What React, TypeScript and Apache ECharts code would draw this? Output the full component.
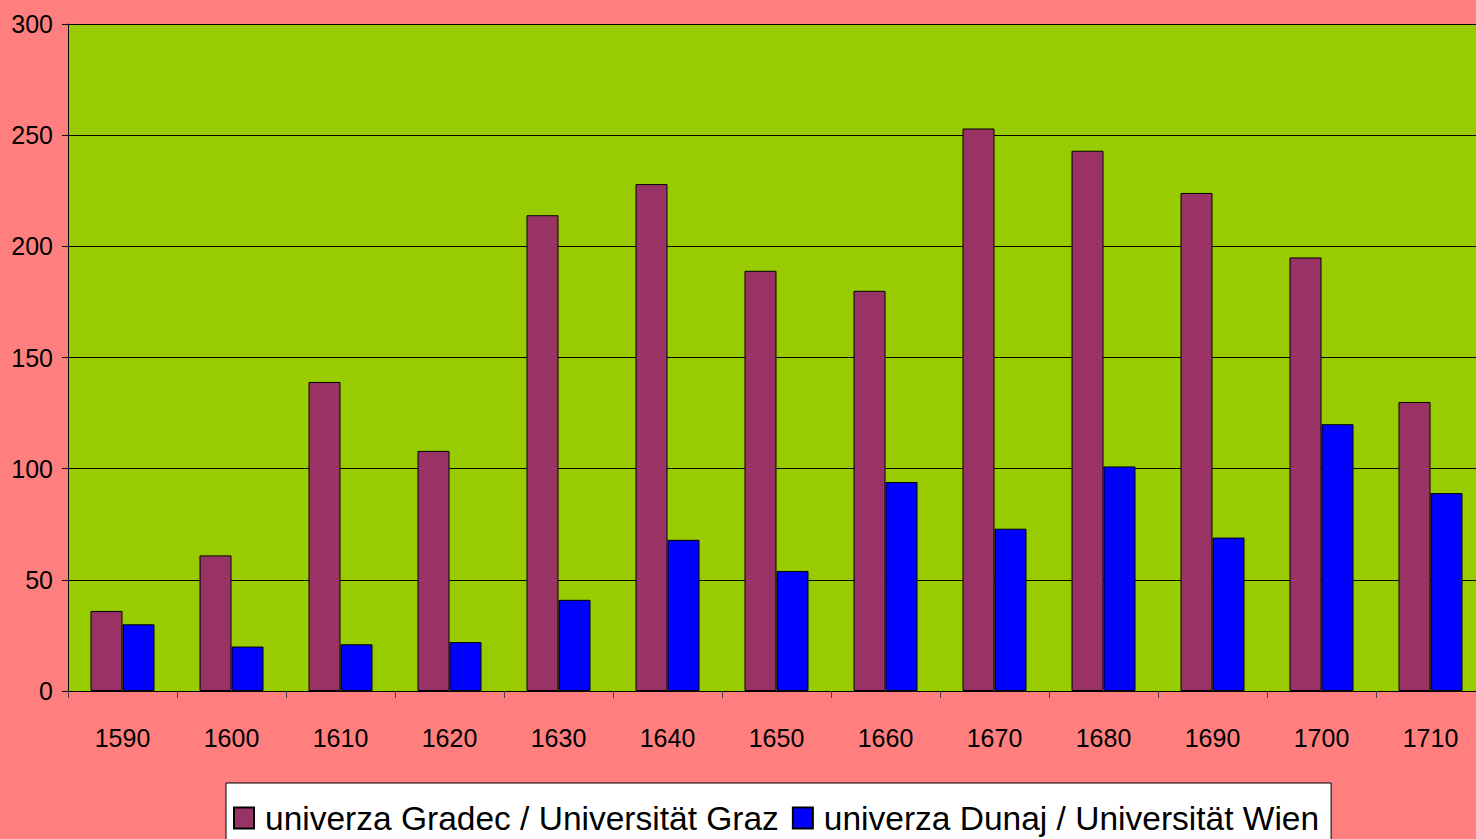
import React, { useEffect, useRef } from "react";
import * as echarts from "echarts";

const categories = ["1590", "1600", "1610", "1620", "1630", "1640", "1650", "1660", "1670", "1680", "1690", "1700", "1710"];
const grazValues = [36, 61, 139, 108, 214, 228, 189, 180, 253, 243, 224, 195, 130];
const wienValues = [30, 20, 21, 22, 41, 68, 54, 94, 73, 101, 69, 120, 89];
const seriesNames = ["univerza Gradec / Universität Graz", "univerza Dunaj / Universität Wien"];

const FONT = "'Liberation Sans Narrow', 'Arial Narrow', 'Liberation Sans', Arial, sans-serif";

export default function App() {
  const ref = useRef<HTMLDivElement>(null);
  useEffect(() => {
    document.body.style.margin = "0";
    const chart = echarts.init(ref.current!, null, { renderer: "svg" });
    chart.setOption({
      animation: false,
      backgroundColor: "#FF7F7F",
      textStyle: { fontFamily: FONT },
      grid: {
        left: 68,
        top: 24,
        width: 1417,
        height: 667,
        outerBoundsMode: "none",
        containLabel: false,
        show: true,
        backgroundColor: "#99CC00",
        borderWidth: 0,
      },
      legend: {
        left: 226,
        top: 783,
        data: seriesNames,
        backgroundColor: "#FFFFFF",
        borderColor: "#000000",
        borderWidth: 1,
        padding: [18, 12, 20, 7],
        itemWidth: 20,
        itemHeight: 21,
        itemGap: 13,
        icon: "rect",
        textStyle: { fontFamily: FONT, fontSize: 33.5, color: "#000000", padding: [0, 0, 0, 6] },
      },
      xAxis: {
        type: "category",
        data: categories,
        axisLine: { lineStyle: { color: "#000000", width: 1 } },
        axisTick: { show: true, length: 7, lineStyle: { color: "#4d3a4a" } },
        axisLabel: { fontFamily: FONT, fontSize: 25, color: "#000000", margin: 34 },
        splitLine: { show: false },
      },
      yAxis: {
        type: "value",
        min: 0,
        max: 300,
        interval: 50,
        axisLine: { show: true, lineStyle: { color: "#000000", width: 1 } },
        axisTick: { show: true, length: 6, lineStyle: { color: "#000000" } },
        axisLabel: { fontFamily: FONT, fontSize: 25, color: "#000000", margin: 15 },
        splitLine: { show: true, lineStyle: { color: "#000000", width: 1 } },
      },
      series: [
        {
          name: seriesNames[0],
          type: "bar",
          data: grazValues,
          barWidth: 32,
          barGap: "0%",
          itemStyle: { color: "#993366", borderColor: "#000000", borderWidth: 1 },
        },
        {
          name: seriesNames[1],
          type: "bar",
          data: wienValues,
          barWidth: 32,
          barGap: "0%",
          itemStyle: { color: "#0000FF", borderColor: "#000000", borderWidth: 1 },
        },
      ],
    });
    return () => chart.dispose();
  }, []);
  return <div ref={ref} style={{ width: 1476, height: 839 }} />;
}
